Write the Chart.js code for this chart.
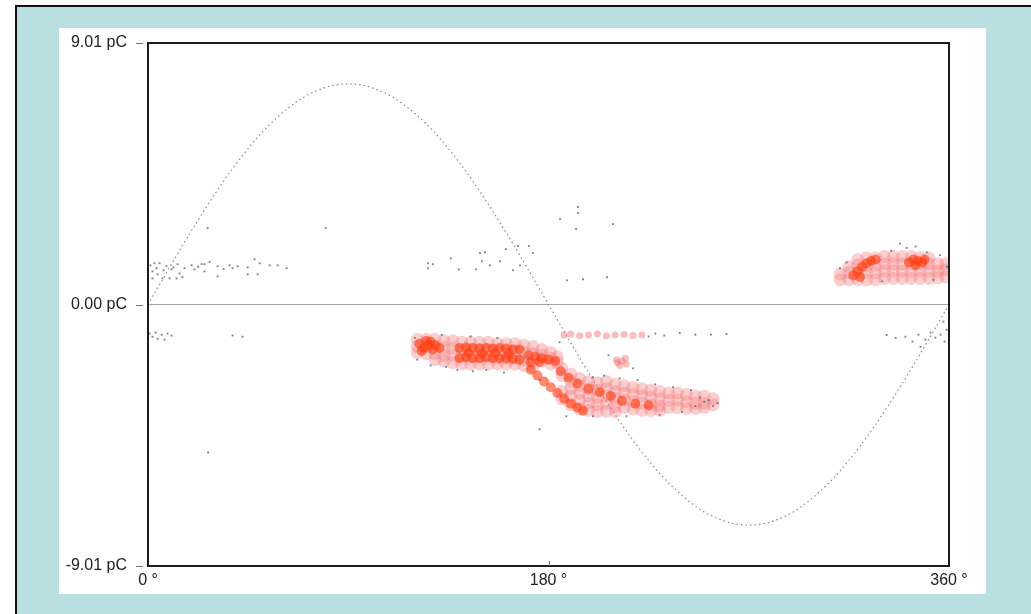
<!DOCTYPE html>
<html><head><meta charset="utf-8">
<script src="https://cdn.jsdelivr.net/npm/chart.js@4.4.0/dist/chart.umd.min.js"></script>
<style>
html,body{margin:0;padding:0;background:#fff;width:1031px;height:614px;overflow:hidden;}
#frame{position:absolute;left:15px;top:5px;width:1030px;height:620px;border-top:2px solid #111;border-left:2px solid #111;background:#b9dfe1;}
#panel{position:absolute;left:59px;top:28px;width:927px;height:566px;background:#fff;}
canvas{display:block;}
</style></head><body>
<div id="frame"></div>
<div id="panel"><canvas id="c" width="927" height="566"></canvas></div>
<script>
// ---- axis ticks ----
const xTicks = [0, 180, 360];
const yTicks = [-9.01, 0, 9.01];

// ---- reference sine (pC) at phases ----
const sinePhases = [0,3,6,9,12,15,18,21,24,27,30,33,36,39,42,45,48,51,54,57,60,63,66,69,72,75,78,81,84,87,90,
93,96,99,102,105,108,111,114,117,120,123,126,129,132,135,138,141,144,147,150,153,156,159,162,165,168,171,174,177,180,
183,186,189,192,195,198,201,204,207,210,213,216,219,222,225,228,231,234,237,240,243,246,249,252,255,258,261,264,267,270,
273,276,279,282,285,288,291,294,297,300,303,306,309,312,315,318,321,324,327,330,333,336,339,342,345,348,351,354,357,360];
const sineValues = [0,0.40,0.79,1.19,1.58,1.97,2.35,2.72,3.09,3.45,3.80,4.14,4.47,4.78,5.09,5.37,5.65,5.91,6.15,6.37,6.58,6.77,6.94,7.10,7.23,7.34,7.43,7.51,7.56,7.59,7.60,
7.59,7.56,7.51,7.43,7.34,7.23,7.10,6.94,6.77,6.58,6.37,6.15,5.91,5.65,5.37,5.09,4.78,4.47,4.14,3.80,3.45,3.09,2.72,2.35,1.97,1.58,1.19,0.79,0.40,0,
-0.40,-0.79,-1.19,-1.58,-1.97,-2.35,-2.72,-3.09,-3.45,-3.80,-4.14,-4.47,-4.78,-5.09,-5.37,-5.65,-5.91,-6.15,-6.37,-6.58,-6.77,-6.94,-7.10,-7.23,-7.34,-7.43,-7.51,-7.56,-7.59,-7.60,
-7.59,-7.56,-7.51,-7.43,-7.34,-7.23,-7.10,-6.94,-6.77,-6.58,-6.37,-6.15,-5.91,-5.65,-5.37,-5.09,-4.78,-4.47,-4.14,-3.80,-3.45,-3.09,-2.72,-2.35,-1.97,-1.58,-1.19,-0.79,-0.40,0];

// ---- discharge pulses [phase deg, charge pC] ----
const hazeBand = [
[121,-1.2],[121,-1.45],[121,-1.65],
[125,-1.2],[125,-1.45],[125,-1.7],
[129,-1.2],[129,-1.45],[129,-1.7],[129,-1.9],
[133,-1.25],[133,-1.5],[133,-1.75],[133,-1.95],
[137,-1.25],[137,-1.5],[137,-1.75],[137,-2.0],
[141,-1.3],[141,-1.55],[141,-1.8],[141,-2.05],
[145,-1.3],[145,-1.55],[145,-1.8],[145,-2.05],
[149,-1.3],[149,-1.55],[149,-1.8],[149,-2.05],
[153,-1.3],[153,-1.55],[153,-1.8],[153,-2.05],
[157,-1.35],[157,-1.6],[157,-1.85],[157,-2.05],
[161,-1.35],[161,-1.6],[161,-1.85],[161,-2.05],
[165,-1.35],[165,-1.6],[165,-1.85],[165,-2.05],
[169,-1.4],[169,-1.65],[169,-1.9],[169,-2.1],
[173,-1.45],[173,-1.7],[173,-1.95],[173,-2.15],
[177,-1.55],[177,-1.75],[177,-1.95],
[181,-1.65],[181,-1.85],[181,-2.05],
[184,-1.8],[184,-2.0]];
const hazeFan = [
[186,-2.2],[186,-2.45],[186,-3.0],[186,-3.25],
[190,-2.4],[190,-2.65],[190,-2.9],[190,-3.15],[190,-3.45],
[194,-2.55],[194,-2.8],[194,-3.05],[194,-3.3],[194,-3.6],
[198,-2.65],[198,-2.9],[198,-3.15],[198,-3.4],[198,-3.65],
[202,-2.7],[202,-2.95],[202,-3.2],[202,-3.45],[202,-3.68],
[206,-2.65],[206,-2.9],[206,-3.15],[206,-3.4],[206,-3.68],
[210,-2.75],[210,-3.0],[210,-3.25],[210,-3.5],[210,-3.7],
[214,-2.8],[214,-3.05],[214,-3.3],[214,-3.55],
[218,-2.85],[218,-3.1],[218,-3.35],[218,-3.6],
[222,-2.9],[222,-3.15],[222,-3.4],[222,-3.65],
[226,-2.95],[226,-3.2],[226,-3.45],[226,-3.65],
[230,-3.0],[230,-3.25],[230,-3.5],[230,-3.65],
[234,-3.05],[234,-3.3],[234,-3.55],
[238,-3.05],[238,-3.3],[238,-3.55],
[242,-3.1],[242,-3.35],[242,-3.58],
[246,-3.15],[246,-3.4],[246,-3.58],
[250,-3.15],[250,-3.4],[250,-3.55],
[254,-3.25],[254,-3.45]];
const hazeRight = [
[311,0.85],[311,1.05],
[315,0.85],[315,1.1],[315,1.3],
[319,0.85],[319,1.1],[319,1.35],[319,1.55],
[323,0.85],[323,1.1],[323,1.35],[323,1.6],
[327,0.85],[327,1.1],[327,1.35],[327,1.6],
[331,0.9],[331,1.15],[331,1.4],[331,1.65],
[335,0.9],[335,1.15],[335,1.4],[335,1.65],
[339,0.9],[339,1.15],[339,1.4],[339,1.65],
[343,0.9],[343,1.15],[343,1.4],[343,1.65],
[347,0.9],[347,1.15],[347,1.4],[347,1.62],
[351,0.9],[351,1.15],[351,1.4],[351,1.6],
[355,0.92],[355,1.15],[355,1.4],
[358.5,0.95],[358.5,1.2],[358.5,1.4]];
const hazeStrip = [[187,-1.05],[190,-1.02],[194,-1.08],[198,-1.05],[202,-1.02],[206,-1.08],[210,-1.05],[214,-1.03],[218,-1.07],[222,-1.05],
[210.5,-1.9],[213,-1.95],[215,-2.05],[212,-2.1],[214.5,-1.85],[211,-2.0]];
const coreBand = [[122,-1.35],[124,-1.5],[126,-1.4],[128,-1.55],[123,-1.6],[127,-1.28],[131,-1.5],[125,-1.25],[129,-1.4],
[140,-1.5],[143,-1.48],[146,-1.5],[149,-1.52],[152,-1.5],[155,-1.52],[158,-1.5],[161,-1.52],[164,-1.55],[167,-1.55],
[140,-1.85],[143,-1.82],[146,-1.85],[149,-1.85],[152,-1.82],[155,-1.85],[158,-1.85],[161,-1.85],[164,-1.88],[167,-1.9],
[144,-1.67],[150,-1.68],[156,-1.68],[162,-1.7],
[171,-1.75],[174,-1.8],[177,-1.85],[180,-1.9],[183,-1.95],[172,-2.0],[176,-1.98]];
const coreUpper = [[185.5,-2.3],[189,-2.52],[193,-2.72],[198,-2.9],[203,-3.02],[208,-3.15],[213,-3.32],[219,-3.42],[225,-3.47]];
const coreLower = [[172,-2.25],[175,-2.45],[178,-2.65],[181,-2.85],[184,-3.05],[187,-3.25],[190,-3.42],[193,-3.55],[195.5,-3.66]];
const coreRight = [[317,1.0],[319,1.15],[321,1.3],[323,1.42],[325,1.5],[327,1.55],[320,0.95],
[342,1.45],[344,1.55],[346,1.5],[348,1.45],[345,1.35],[349,1.55]];
const grayPulses = [
[1.1,1.35],[2.0,1.14],[2.0,0.90],[2.9,1.42],[3.8,1.25],[4.3,1.04],[5.2,1.42],[6.5,0.90],[8.3,1.32],[9.7,0.90],
[10.6,1.21],[12.8,0.90],[13.3,1.39],[14.2,1.07],[15.5,0.94],[16.4,1.25],[19.6,1.35],[20.9,1.21],[24.1,1.39],[25.4,1.39],
[25.4,1.14],[27.7,1.46],[31.3,1.32],[31.3,0.97],[36.7,1.35],[38.0,1.25],[40.3,1.32],[44.8,1.28],[44.8,1.04],[47.9,1.56],
[50.2,1.42],[49.3,1.04],[54.7,1.35],[58.3,1.35],[62.3,1.25],[26.8,2.63],[79.9,2.63],[7,1.18],[11.5,1.28],[22.5,1.3],[34,1.22],
[0.7,-1.00],[2.0,-1.11],[3.4,-0.97],[4.3,-1.18],[6.1,-1.04],[7.4,-1.21],[8.8,-1.00],[10.6,-1.07],[38.0,-1.07],[42.5,-1.11],
[125.8,1.42],[125.8,1.25],[128.0,1.39],[136.1,1.59],[139.7,1.21],[147.4,1.21],[149.2,1.77],[151.4,1.80],[153.7,1.35],[150.1,1.49],
[158.2,1.49],[160.9,1.91],[166.3,2.01],[171.2,2.01],[164.0,1.18],[167.2,1.35],[173.0,1.77],[188.3,0.83],[195.5,0.87],[206.3,0.94],
[193.3,3.36],[193.3,3.15],[185.2,2.95],[192.4,2.60],[209.0,2.77],
[121,-1.9],[127,-2.1],[134,-2.15],[139,-2.25],[146,-2.3],[152,-2.25],[160,-2.35],[132,-1.05],[145,-1.1],[157,-1.15],[120,-1.15],
[176,-2.6],[200,-2.5],[205,-2.45],[212,-2.55],[220,-2.6],[228,-2.75],[236,-2.85],[244,-2.95],[248,-3.2],[250,-3.35],[252,-3.3],
[254,-3.5],[256,-3.4],[246,-3.5],[240,-3.7],[230,-3.8],[215,-3.85],[200,-3.85],[188,-3.85],
[225,-1.1],[232,-1.07],[239,-0.98],[246,-1.04],[253,-1.04],[228,-1.0],[260,-1.02],[185,-1.3],[207,-1.75],[218,-2.2],
[311,1.25],[314,1.45],[334,1.85],[338,2.1],[341,1.95],[350,1.8],[356,1.7],[359,1.3],[353,0.85],[330,0.8],[345,2.0],
[340.4,-1.11],[343.6,-1.28],[346.3,-1.04],[349.4,-1.21],[351.7,-0.97],[353.9,-1.14],[356.2,-1.04],[358.0,-1.28],[358.9,-0.87],
[347.2,-1.46],[357.5,-0.59],[332,-1.05],[336,-1.15],[27,-5.1],[176,-4.3]];

const toXY = arr => arr.map(p => ({x: p[0], y: p[1]}));

const sineData = sinePhases.map((p, i) => ({x: p, y: sineValues[i]}));

const framePlugin = {
  id: 'framePlugin',
  afterDatasetsDraw(chart) {
    const {ctx, chartArea: a, scales} = chart;
    ctx.save();
    ctx.strokeStyle = '#1c1c1c';
    ctx.lineWidth = 2;
    ctx.strokeRect(a.left, a.top, a.right - a.left, a.bottom - a.top);
    ctx.strokeStyle = '#777';
    ctx.lineWidth = 1;
    yTicks.forEach(v => {
      const y = Math.round(scales.y.getPixelForValue(v)) + 0.5;
      ctx.beginPath(); ctx.moveTo(a.left - 12, y); ctx.lineTo(a.left - 5, y); ctx.stroke();
    });
    const xm = Math.round(scales.x.getPixelForValue(180)) + 0.5;
    ctx.beginPath(); ctx.moveTo(xm, a.bottom - 5); ctx.lineTo(xm, a.bottom); ctx.stroke();
    ctx.restore();
  }
};

const font = {family: '"Liberation Sans", Arial, sans-serif', size: 16};

new Chart(document.getElementById('c'), {
  type: 'scatter',
  data: {
    datasets: [
      {label: 'core', data: [...toXY(coreBand), ...toXY(coreUpper), ...toXY(coreLower), ...toXY(coreRight)],
        pointRadius: 5, pointStyle: 'circle', backgroundColor: 'rgba(255,60,15,0.6)', borderWidth: 0},
      {label: 'gray', data: toXY(grayPulses), pointRadius: 1.3, pointStyle: 'rect',
        backgroundColor: 'rgba(105,100,135,0.85)', borderWidth: 0},
      {label: 'strip', data: toXY(hazeStrip), pointRadius: 3.5, backgroundColor: 'rgba(245,110,110,0.45)', borderWidth: 0},
      {label: 'haze', data: [...toXY(hazeBand), ...toXY(hazeFan), ...toXY(hazeRight)],
        pointRadius: 6.5, backgroundColor: 'rgba(243,110,110,0.33)', borderWidth: 0},
      {label: 'sine', data: sineData, showLine: true, tension: 0.3, pointRadius: 0,
        borderColor: '#8a8a8a', borderWidth: 1.2, borderDash: [1.5, 3], fill: false}
    ]
  },
  options: {
    responsive: false,
    animation: false,
    devicePixelRatio: 1,
    events: [],
    layout: {autoPadding: false, padding: {top: 15, right: 37, bottom: 0, left: 0}},
    plugins: {legend: {display: false}, tooltip: {enabled: false}},
    scales: {
      x: {
        type: 'linear', min: 0, max: 360,
        afterBuildTicks: s => { s.ticks = xTicks.map(v => ({value: v})); },
        afterFit: s => { s.height = 28; },
        grid: {display: false, drawTicks: false},
        border: {display: false},
        ticks: {font, color: '#222', padding: 5, maxRotation: 0, autoSkip: false,
          callback: v => v + ' \u00b0'}
      },
      y: {
        type: 'linear', min: -9.01, max: 9.01,
        afterBuildTicks: s => { s.ticks = yTicks.map(v => ({value: v})); },
        afterFit: s => { s.width = 89; },
        grid: {drawTicks: true, tickLength: 18, tickColor: 'rgba(0,0,0,0)', lineWidth: 1,
          color: c => (c.tick && c.tick.value === 0) ? '#a5a5a5' : 'rgba(0,0,0,0)'},
        border: {display: false},
        ticks: {font, color: '#222', padding: 3, autoSkip: false,
          callback: v => v.toFixed(2) + ' pC'}
      }
    }
  },
  plugins: [framePlugin]
});
</script>
</body></html>
